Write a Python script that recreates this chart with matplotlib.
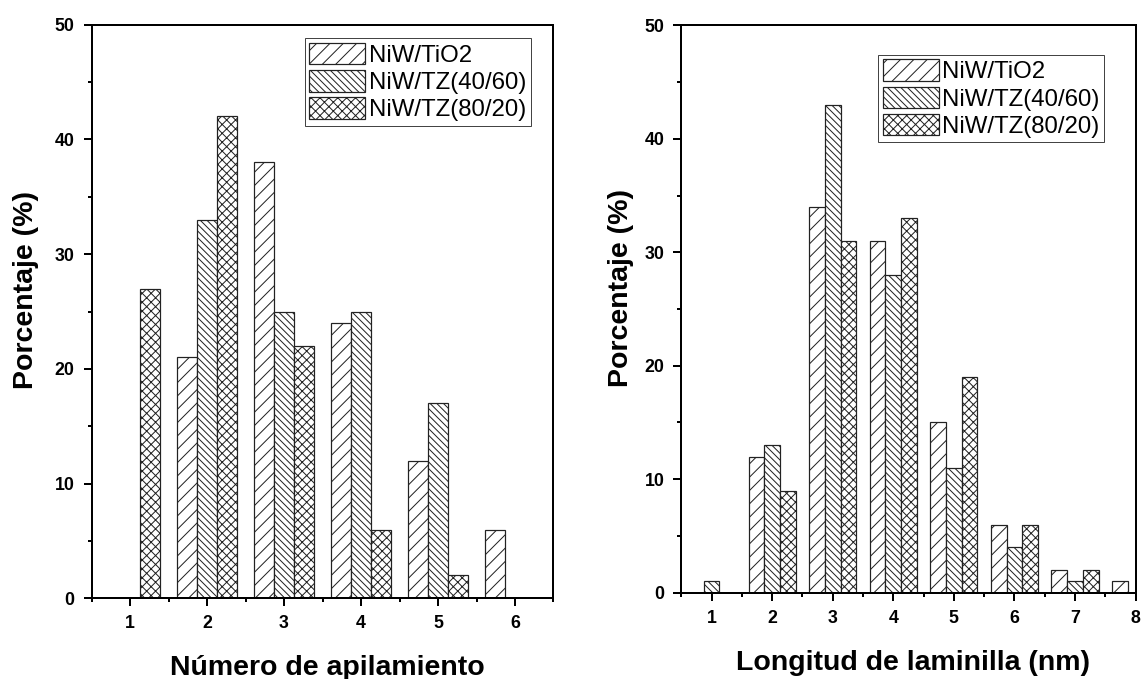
import numpy as np
import matplotlib
matplotlib.use('Agg')
from matplotlib import pyplot as plt
from matplotlib.ticker import MultipleLocator

plt.rcParams['font.family'] = ['Liberation Sans', 'DejaVu Sans']
plt.rcParams['hatch.linewidth'] = 0.9

# datos
series = ['NiW/TiO2', 'NiW/TZ(40/60)', 'NiW/TZ(80/20)']
hatches = ['//', '\\\\\\\\', 'xxx']

apil_x = [1, 2, 3, 4, 5, 6]
apil_tio2 = [0, 21, 38, 24, 12, 6]
apil_tz4060 = [0, 33, 25, 25, 17, 0]
apil_tz8020 = [27, 42, 22, 6, 2, 0]

lam_x = [1, 2, 3, 4, 5, 6, 7, 8]
lam_tio2 = [0, 12, 34, 31, 15, 6, 2, 1]
lam_tz4060 = [1, 13, 43, 28, 11, 4, 1, 0]
lam_tz8020 = [0, 9, 31, 33, 19, 6, 2, 0]

DPI = 80
fig = plt.figure(figsize=(1141 / DPI, 679 / DPI), dpi=DPI)
ax1 = fig.add_axes([0.0803, 0.1188, 0.4048, 0.8448])
ax2 = fig.add_axes([0.5971, 0.1271, 0.3981, 0.8356])

w = 0.26


def panel(ax, x, datos, xmax, xlabel, leg_anchor, ylab_x, xlab_y):
    x = np.array(x)
    for i, vals in enumerate(datos):
        ax.bar(x + (i - 1) * w, vals, width=w, facecolor='white',
               edgecolor='#222222', linewidth=1.1, hatch=hatches[i],
               label=series[i])
    ax.set_xlim(0.5, xmax)
    ax.set_ylim(0, 50)
    ax.xaxis.set_major_locator(MultipleLocator(1))
    ax.xaxis.set_minor_locator(MultipleLocator(0.5))
    ax.yaxis.set_major_locator(MultipleLocator(10))
    ax.yaxis.set_minor_locator(MultipleLocator(5))
    ax.tick_params(which='major', direction='out', length=7.2, width=1.8,
                   pad=8, labelsize=16, top=False, right=False)
    ax.tick_params(which='minor', direction='out', length=3.6, width=1.8,
                   top=False, right=False)
    for lab in ax.get_xticklabels() + ax.get_yticklabels():
        lab.set_fontweight('bold')
    for sp in ax.spines.values():
        sp.set_linewidth(1.8)
    ax.set_xlabel(xlabel, fontsize=25.6, fontweight='bold', va='baseline')
    ax.xaxis.set_label_coords(0.51, xlab_y)
    ax.set_ylabel('Porcentaje (%)', fontsize=25.6, fontweight='bold',
                  va='baseline')
    ax.yaxis.set_label_coords(ylab_x, 0.537)
    leg = ax.legend(loc='upper left', bbox_to_anchor=leg_anchor,
                    borderaxespad=0, fontsize=21.6, handlelength=2.33,
                    handleheight=1.0, borderpad=0.18, labelspacing=0.14,
                    handletextpad=0.15, fancybox=False, framealpha=1)
    leg.get_frame().set_edgecolor('#444444')
    leg.get_frame().set_linewidth(0.9)


panel(ax1, apil_x, [apil_tio2, apil_tz4060, apil_tz8020], 6.5,
      'Número de apilamiento', (0.462, 0.976), -0.1262, -0.1337)
panel(ax2, lam_x, [lam_tio2, lam_tz4060, lam_tz8020], 8,
      'Longitud de laminilla (nm)', (0.4337, 0.9477), -0.117, -0.1362)

plt.savefig('out.png', dpi=DPI)
